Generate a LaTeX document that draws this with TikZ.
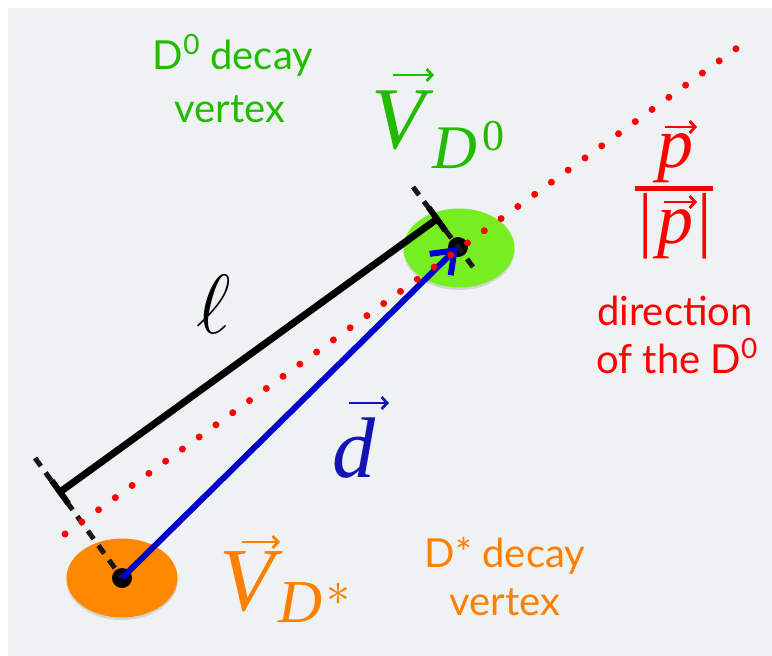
\RequirePackage{fix-cm}
\documentclass[tikz,border=0pt]{standalone}
\usepackage{fontspec}
\setmainfont{Lato}
\newfontfamily\tms{Liberation Serif}
\usetikzlibrary{arrows.meta,calc,shapes.geometric,shadows}
\definecolor{bgc}{HTML}{EEF2F3}
\definecolor{gtext}{HTML}{22BB00}
\definecolor{gfill}{HTML}{77EE22}
\definecolor{ofill}{HTML}{FF8800}
\definecolor{otext}{HTML}{FF8000}
\definecolor{rc}{HTML}{FF0000}
\definecolor{bline}{HTML}{0000CC}
\definecolor{btext}{HTML}{1414B4}
\tikzset{
  lbl/.style={inner sep=0pt, outer sep=0pt},
  sans/.style={lbl, font=\fontsize{40}{48}\selectfont},
  vertexdisk/.style={ellipse, inner sep=0pt, minimum width=111pt, minimum height=79pt,
     drop shadow={opacity=0.25, shadow xshift=0pt, shadow yshift=-2.5pt}},
  vtxdot/.style={circle, fill=black, inner sep=0pt, minimum size=20pt},
  perpdash/.style={line width=5pt, dash pattern=on 10pt off 8pt, black!90},
  ellbar/.style={line width=7pt, black},
  reddots/.style={rc, line width=7pt, line cap=round, dash pattern=on 0pt off 20.7pt},
  vecarrow/.style={line width=6pt, bline, -{Straight Barb[length=20pt,width=30pt]}},
  accent/.style={line width=2.8pt, -{Straight Barb[length=5.5pt,width=12pt]}},
}
\begin{document}
\begin{tikzpicture}[x=1pt,y=-1pt]
\useasboundingbox (0,0) rectangle (772,656);
\fill[bgc] (8,8) rectangle (772,656);
% vertex disks
\node[vertexdisk, fill=ofill] (odisk) at (122,578) {};
\node[vertexdisk, fill=gfill] (gdisk) at (459,248) {};
\node[vtxdot] (odot) at (122,578) {};
\node[vtxdot] (gdot) at (458,247) {};
% perpendicular dashed lines
\coordinate (pa) at (35,458);
\coordinate (pb) at (413,187);
\coordinate (pc) at (473,267);
\draw[perpdash] (pa) -- (odot.center);
\draw[perpdash] (pb) -- (pc);
% flight length
\coordinate (l1) at (60,492);
\coordinate (l2) at (437,219);
\draw[ellbar] (l1) -- (l2);
\draw[ellbar, line width=6pt] ($(l1)!14pt!90:(l2)$) -- ($(l1)!14pt!-90:(l2)$);
\draw[ellbar, line width=6pt] ($(l2)!14pt!90:(l1)$) -- ($(l2)!14pt!-90:(l1)$);
% displacement vector
\draw[vecarrow] (odot.center) -- (gdot.center);
% momentum direction
\coordinate (rs) at (65,534);
\coordinate (re) at (737,48);
\draw[reddots] (rs) -- (re);
% sans labels
\node[sans, text=gtext, anchor=base] (g1) at (233,69) {D\textsuperscript{0} decay};
\node[sans, text=gtext, anchor=base] (g2) at (230,122) {vertex};
\node[sans, text=otext, anchor=base] (o1) at (505,567) {D* decay};
\node[sans, text=otext, anchor=base] (o2) at (505,615) {vertex};
\node[sans, text=rc, anchor=base] (r1) at (675,325) {direction};
\node[sans, text=rc, anchor=base] (r2) at (677,373) {of the D\textsuperscript{0}};
% V_{D0}
\node[lbl, text=gtext, anchor=base west, font={\fontsize{88}{88}\tms\itshape}] (vg) at (371,148) {V};
\node[lbl, text=gtext, anchor=base west, font={\fontsize{62}{62}\tms\itshape}] (vgD) at (432,168) {D};
\node[lbl, text=gtext, anchor=base west, font={\fontsize{44}{44}\tms}] (vg0) at (482,150) {0};
\draw[accent, gtext] (393,75) -- (434,75);
% V_{D*}
\node[lbl, text=otext, anchor=base west, font={\fontsize{90}{90}\tms\itshape}] (vo) at (219,610) {V};
\node[lbl, text=otext, anchor=base west, font={\fontsize{61}{61}\tms\itshape}] (voD) at (278,622) {D};
\node[lbl, text=otext, font={\fontsize{48}{48}\selectfont}] (vos) at (338,594) {$\ast$};
\draw[accent, otext] (242,542) -- (280,542);
% d vector
\node[lbl, text=btext, anchor=base west, font={\fontsize{86}{86}\tms\itshape}] (dv) at (332,477) {d};
\draw[accent, btext] (349,403) -- (389,403);
% ell
\node[lbl, anchor=base, font={\fontsize{84}{84}\selectfont}] (ell) at (214,333) {$\ell$};
% p / |p|
\node[lbl, text=rc, anchor=base, font={\fontsize{72}{72}\tms\itshape}] (pn) at (675,167) {p};
\draw[accent, rc] (665,127) -- (697,127);
\coordinate (fb1) at (635,188.5);
\coordinate (fb2) at (713,188.5);
\draw[rc, line width=5pt] (fb1) -- (fb2);
\node[lbl, text=rc, anchor=base, font={\fontsize{72}{72}\tms}] (pd) at (675,243) {|\kern5pt\textit{p}\kern4pt|};
\draw[accent, rc] (664,202) -- (697,202);
\end{tikzpicture}
\end{document}
